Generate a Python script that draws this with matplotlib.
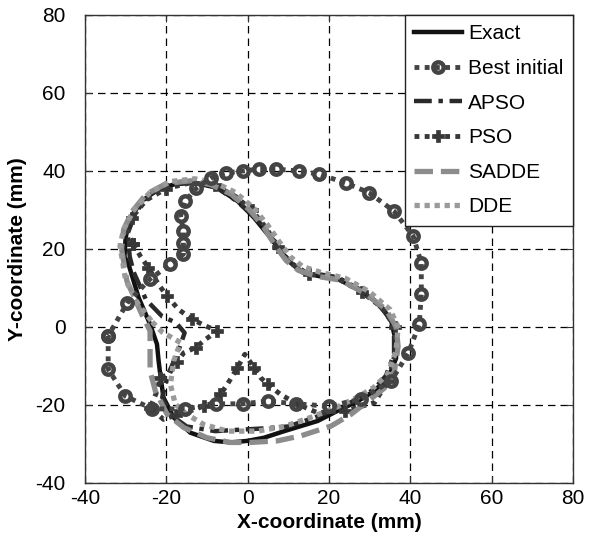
import matplotlib
matplotlib.use('Agg')
import matplotlib.pyplot as plt

plt.rcParams['font.family'] = ['Liberation Sans', 'DejaVu Sans']
plt.rcParams['axes.unicode_minus'] = False

# ---------------------------------------------------------------------------
# data (mm)
# ---------------------------------------------------------------------------
exact_x = [-13.3, -7.5, -2.5, 1.6, 4.9, 8.1, 10.6, 13.5, 17.3, 22.2, 27.9, 32.3,
           35.3, 36.3, 36.5, 34.6, 31.0, 27.1, 22.1, 17.2, 9.0, 4.0, -0.1, -4.2,
           -8.3, -14.1, -18.2, -20.7, -21.5, -21.9, -22.3, -24.0, -26.8, -29.3,
           -30.3, -30.0, -28.9, -26.0, -22.0, -18.0, -13.3]
exact_y = [37.0, 35.7, 32.3, 28.0, 23.8, 19.5, 16.5, 14.0, 13.1, 12.3, 9.2, 5.9,
           1.5, -3.0, -8.0, -13.0, -16.5, -19.0, -21.5, -24.1, -26.7, -28.4, -29.2,
           -29.6, -29.2, -27.1, -23.2, -18.1, -12.1, -8.7, -4.4, 0.7, 7.5, 16.1,
           18.0, 23.0, 28.0, 32.3, 35.3, 36.6, 37.0]

best_x = [-34.3, -34.3, -30.1, -23.5, -15.3, -7.9, -1.2, 4.9, 11.9, 20.0, 27.9,
          35.3, 39.5, 42.2, 42.7, 42.7, 40.7, 36.0, 29.9, 24.2, 17.5, 12.6, 6.9,
          2.7, -1.2, -5.4, -9.1, -12.6, -15.3, -16.5, -15.8, -15.8, -15.8, -19.0,
          -24.0, -29.6, -34.3]
best_y = [-2.3, -10.8, -17.7, -21.0, -21.0, -19.7, -19.7, -19.0, -19.7, -20.3,
          -18.5, -13.8, -6.7, 0.8, 8.5, 16.4, 23.3, 29.7, 34.4, 36.9, 39.2, 40.0,
          40.5, 40.5, 40.0, 39.5, 38.2, 35.6, 32.3, 28.5, 24.6, 21.5, 18.7, 16.1,
          12.3, 6.2, -2.3]

apso_x = [-28.0, -25.0, -21.0, -17.6, -15.5, -17.0, -19.5, -21.0, -19.0, -15.0,
          -8.0, -3.0, 4.0, 10.0, 17.0, 22.0, 27.0, 31.0, 34.0, 36.0, 36.0, 34.5,
          31.0, 27.0, 22.0, 17.0, 13.0, 10.0, 7.5, 4.5, 1.0, -3.0, -8.0, -13.0,
          -19.0, -24.0, -27.5, -29.5, -29.0, -28.0]
apso_y = [14.0, 7.0, 2.7, 1.1, -1.5, -6.0, -12.0, -18.0, -22.5, -25.5, -26.7,
          -26.4, -26.0, -25.5, -23.0, -21.0, -18.5, -16.0, -12.5, -7.0, -1.0, 3.0,
          7.0, 10.0, 12.8, 13.6, 14.3, 17.0, 20.5, 25.0, 29.0, 32.5, 36.0, 37.2,
          36.6, 34.0, 29.5, 24.0, 18.0, 14.0]

pso_x = [-28.1, -26.4, -24.4, -21.9, -19.8, -17.0, -13.7, -10.4, -7.5, -10.4,
         -12.8, -15.7, -17.4, -19.4, -21.5, -22.5, -24.0, -20.7, -17.5, -14.1,
         -10.8, -8.3, -6.7, -5.0, -2.5, -0.7, 1.6, 3.2, 4.9, 8.1, 12.3, 17.2, 24.0,
         31.2, 34.5, 36.5, 36.2, 33.0, 28.0, 22.0, 15.0, 10.5, 7.5, 4.5, 1.0, -3.0,
         -8.0, -14.0, -20.0, -25.0, -28.5, -29.5, -28.1]
pso_y = [21.3, 18.2, 15.2, 10.9, 7.9, 4.5, 2.0, 0.3, -1.0, -3.2, -5.3, -6.6,
         -9.1, -12.1, -13.0, -17.0, -20.7, -23.7, -22.5, -21.5, -20.3, -19.4,
         -17.3, -14.7, -10.4, -7.0, -10.4, -13.0, -14.7, -17.3, -19.8, -22.0,
         -21.5, -19.4, -13.8, -6.0, 0.0, 5.0, 9.0, 12.5, 13.5, 16.5, 20.5, 25.5,
         30.0, 33.5, 36.3, 37.0, 35.5, 32.5, 28.0, 24.0, 21.3]

sadde_x = [-31.0, -29.7, -26.0, -24.0, -24.0, -24.0, -22.7, -19.8, -15.7, -10.0,
           -4.2, 0.7, 7.3, 13.1, 20.5, 25.4, 29.6, 33.7, 36.1, 37.0, 36.5, 34.0,
           29.0, 23.0, 17.0, 12.5, 9.5, 7.0, 4.0, 0.5, -4.0, -9.0, -14.0, -20.0,
           -25.0, -28.5, -30.5, -31.0]
sadde_y = [20.0, 11.8, 3.2, -1.0, -8.7, -11.3, -16.4, -22.4, -25.8, -28.4, -29.6,
           -29.6, -29.2, -27.9, -25.4, -22.4, -19.0, -15.6, -11.3, -5.0, 0.0, 4.5,
           8.5, 12.0, 13.0, 14.5, 17.0, 20.5, 25.5, 30.0, 34.0, 36.5, 37.5, 36.8,
           34.0, 29.5, 25.0, 20.0]

dde_x = [-23.5, -21.0, -18.2, -16.5, -18.2, -19.0, -17.8, -14.9, -10.8, -5.0,
         2.4, 9.0, 16.0, 22.0, 27.0, 31.0, 34.5, 36.5, 37.0, 35.0, 30.0, 24.0,
         18.0, 13.5, 10.5, 8.0, 5.0, 1.5, -3.0, -8.0, -13.0, -19.0, -24.0, -28.0,
         -30.5, -31.4, -30.0, -27.0, -23.5]
dde_y = [1.3, -1.3, -3.0, -4.0, -8.7, -14.7, -19.8, -22.4, -25.0, -26.7, -26.7,
         -25.5, -23.0, -20.5, -18.0, -15.5, -12.0, -6.0, 0.0, 4.5, 9.0, 12.5,
         14.0, 15.5, 18.0, 21.5, 26.0, 30.5, 34.5, 37.0, 38.0, 37.3, 34.5, 30.0,
         25.0, 20.8, 12.0, 6.0, 1.3]

x_ticks = [-40, -20, 0, 20, 40, 60, 80]
y_ticks = [-40, -20, 0, 20, 40, 60, 80]

# ---------------------------------------------------------------------------

fig = plt.figure(figsize=(5.97, 5.37), dpi=100)
ax = fig.add_axes([85 / 597, 1 - 483 / 537, 488 / 597, 468 / 537])

ax.plot(exact_x, exact_y, color='#111111', lw=3.2, ls='-', label='Exact', zorder=3)
ax.plot(best_x, best_y, color='#444444', lw=3.5, ls=(0, (1, 1.1)),
        marker='o', ms=7.5, mfc='none', mec='#444444', mew=3.2,
        label='Best initial', zorder=4)
ax.plot(apso_x, apso_y, color='#2a2a2a', lw=3.2, ls=(0, (4, 1.5, 1, 1.5)),
        label='APSO', zorder=3)
ax.plot(pso_x, pso_y, color='#383838', lw=3.5, ls=(0, (1, 1.1)),
        marker='P', ms=8, mfc='#383838', mec='#383838', mew=0.5, markevery=2,
        label='PSO', zorder=3)
ax.plot(sadde_x, sadde_y, color='#8c8c8c', lw=3.8, ls=(0, (3.5, 1.5)),
        label='SADDE', zorder=3)
ax.plot(dde_x, dde_y, color='#9a9a9a', lw=3.8, ls=(0, (1, 0.9)),
        label='DDE', zorder=3)

ax.set_xlim(-40, 80)
ax.set_ylim(-40, 80)
ax.set_xticks(x_ticks)
ax.set_yticks(y_ticks)
ax.tick_params(direction='in', length=5, top=True, right=True, labelsize=15,
               width=0.8, color='#333333')
ax.tick_params(axis='y', pad=14)
ax.tick_params(axis='x', pad=4)
ax.grid(True, color='black', ls=(0, (6, 4)), lw=0.9)
ax.set_axisbelow(True)
for s in ax.spines.values():
    s.set_color('#333333')
    s.set_linewidth(1.0)

ax.set_xlabel('X-coordinate (mm)', fontsize=15, fontweight='bold', labelpad=4)
ax.set_ylabel('Y-coordinate (mm)', fontsize=15, fontweight='bold', labelpad=6)

leg = ax.legend(loc='upper right', borderaxespad=0, fontsize=15, fancybox=False,
                framealpha=1, edgecolor='#222222', handlelength=2.3,
                handletextpad=0.3, labelspacing=0.75, borderpad=0.45)
leg.get_frame().set_linewidth(1.0)
leg.set_zorder(10)

fig.savefig('out.png', dpi=100)
